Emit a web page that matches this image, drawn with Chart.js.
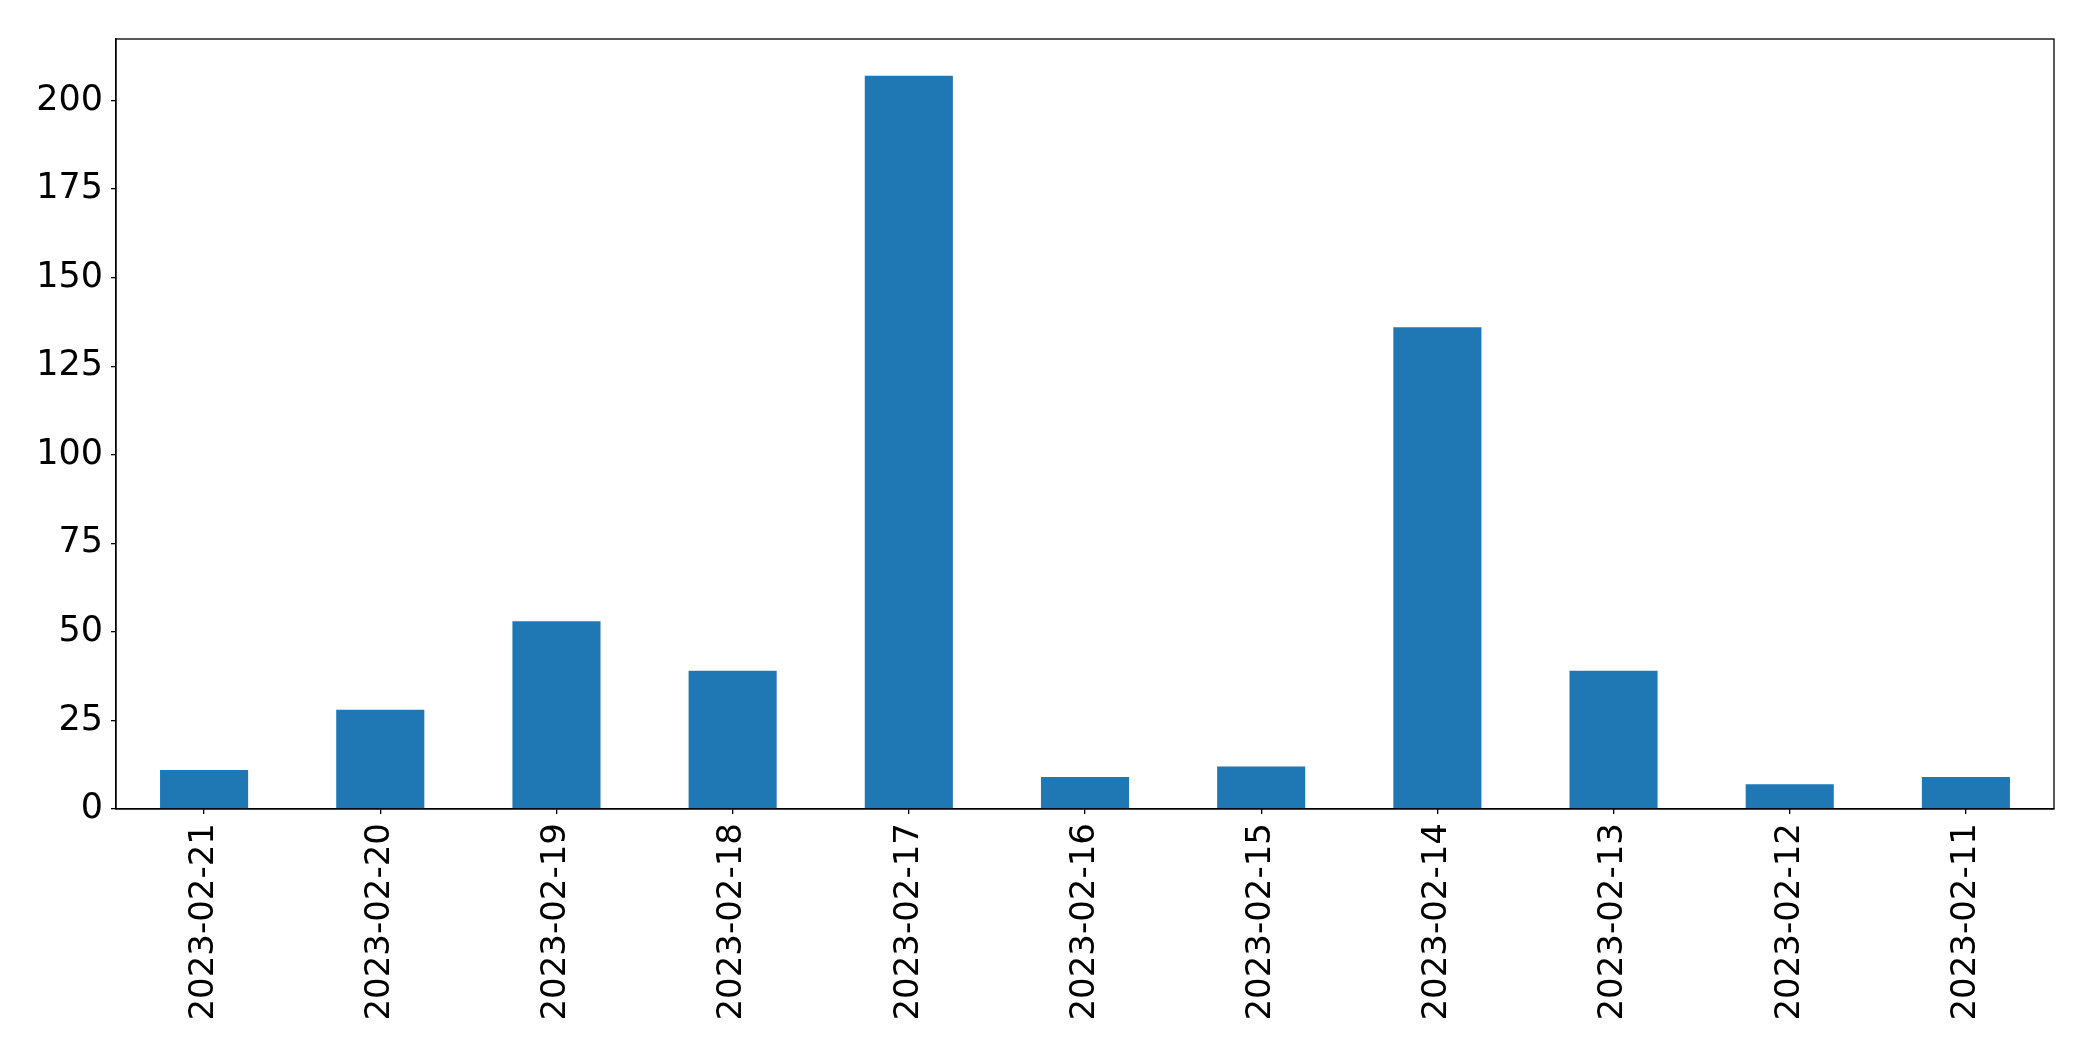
<!DOCTYPE html>
<html>
<head>
<meta charset="utf-8">
<script src="https://cdn.jsdelivr.net/npm/chart.js@4/dist/chart.umd.min.js"></script>
<style>
  body { margin: 0; background: #fff; }
  #wrap { width: 2093px; height: 1061px; }
</style>
</head>
<body>
<div id="wrap"><canvas id="chart" width="2093" height="1061"></canvas></div>
<script>
// dates (descending, as in the source) and daily counts
var dates = ['2023-02-21', '2023-02-20', '2023-02-19', '2023-02-18', '2023-02-17', '2023-02-16',
             '2023-02-15', '2023-02-14', '2023-02-13', '2023-02-12', '2023-02-11']
var counts = [11, 28, 53, 39, 207, 9, 12, 136, 39, 7, 9]
var yTicks = [0, 25, 50, 75, 100, 125, 150, 175, 200]

var yMax = Math.max(...counts) * 1.05  // matplotlib-style top margin

// outline the whole plot box like a matplotlib axes frame
const frame = {
  id: 'frame',
  afterDraw(chart) {
    const a = chart.chartArea
    const ctx = chart.ctx
    ctx.save()
    ctx.strokeStyle = '#000'
    ctx.lineWidth = 1.3
    ctx.strokeRect(a.left, a.top, a.right - a.left, a.bottom - a.top)
    ctx.restore()
  }
}

Chart.defaults.font.family = '"DejaVu Sans", sans-serif'
Chart.defaults.color = '#000'

new Chart(document.getElementById('chart'), {
  type: 'bar',
  data: {
    labels: dates,
    datasets: [{
      data: counts,
      backgroundColor: '#1f77b4',
      barPercentage: 0.5,
      categoryPercentage: 1.0
    }]
  },
  options: {
    responsive: false,
    animation: false,
    layout: { padding: { top: 39, right: 39, left: 0, bottom: 0 } },
    plugins: { legend: { display: false }, tooltip: { enabled: false } },
    scales: {
      x: {
        offset: true,
        grid: { display: true, drawOnChartArea: false, offset: false, tickLength: 5, color: '#000', lineWidth: 1.3 },
        border: { display: true, color: '#000', width: 1.3 },
        ticks: { minRotation: 90, maxRotation: 90, autoSkip: false, padding: 9, font: { size: 34 } },
        afterFit(scale) { scale.height = 252 }
      },
      y: {
        min: 0,
        max: yMax,
        grid: { display: true, drawOnChartArea: false, tickLength: 5, color: '#000', lineWidth: 1.3 },
        border: { display: true, color: '#000', width: 1.3 },
        ticks: { stepSize: 25, includeBounds: false, padding: 8, font: { size: 35 } },
        afterBuildTicks(scale) { scale.ticks = yTicks.map(v => ({ value: v })) },
        afterFit(scale) { scale.width = 116 }
      }
    }
  },
  plugins: [frame]
})
</script>
</body>
</html>
